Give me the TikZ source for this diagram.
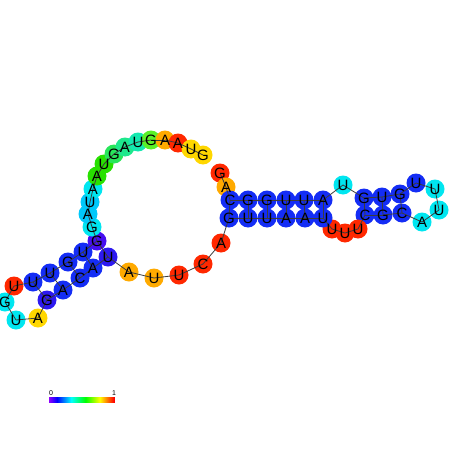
\documentclass[tikz,border=0pt]{standalone}
\usepackage{fontspec}
\setmainfont{Liberation Sans}
\definecolor{cred}{RGB}{255,40,0}
\definecolor{cora}{RGB}{255,170,0}
\definecolor{cyel}{RGB}{255,215,0}
\definecolor{cblu}{RGB}{20,45,245}
\definecolor{cpur}{RGB}{70,15,240}
\definecolor{cbp}{RGB}{45,25,240}
\definecolor{ccya}{RGB}{0,230,240}
\definecolor{clbl}{RGB}{0,200,250}
\definecolor{cgrn}{RGB}{40,225,0}
\definecolor{cgr2}{RGB}{40,230,90}
\definecolor{cgr3}{RGB}{30,232,140}
\definecolor{cgr4}{RGB}{20,232,175}
\definecolor{cgr5}{RGB}{90,240,40}
\definecolor{cline}{RGB}{60,60,60}
\tikzset{
  ntc/.style={circle, minimum size=19pt, inner sep=0pt, draw=none},
  ntl/.style={inner sep=0pt, font=\fontsize{15}{15}\selectfont},
  bb/.style={draw=cline, line width=0.8pt},
}
\begin{document}
\begin{tikzpicture}[x=1pt,y=-1pt]
\fill[white] (0,0) rectangle (452,452);
\useasboundingbox (0,0) rectangle (452,452);
\def\bases{
b1/220/173/cred/G, b2/226/187/cora/A, b3/230/200/cblu/C, b4/248/200/cblu/G,
b5/267/200/cblu/G, b6/286/200/cblu/U, b7/304/200/cblu/U, b8/323/200/cblu/A,
b9/343/185/ccya/U, b10/364/198/cblu/G, b11/382/197/cblu/U, b12/400/194/cblu/G,
b13/416/183/cblu/U, b14/435/189/ccya/U, b15/439/210/ccya/U, b16/422/222/ccya/A,
b17/402/213/cblu/C, b18/383/215/cblu/G, b19/365/215/cblu/C, b20/358/229/cred/U,
b21/345/233/cred/U, b22/332/229/cred/U, b23/323/218/cblu/U, b24/305/218/cblu/A,
b25/286/218/cblu/A, b26/267/218/cblu/U, b27/248/218/cblu/U, b28/229/218/cblu/G,
b29/221/243/cred/A, b30/203/264/cred/C, b31/179/275/cred/U, b32/154/278/cora/U,
b33/129/272/cora/A, b34/108/257/cbp/U, b35/93/268/cblu/A, b36/80/278/cblu/C,
b37/63/290/cblu/A, b38/47/300/cbp/G, b39/38/318/cyel/A, b40/16/320/ccya/U,
b41/5/302/ccya/G, b42/14/286/cred/U, b43/33/282/cblu/U, b44/50/273/cblu/U,
b45/68/262/cblu/G, b46/83/252/cblu/U, b47/97/241/cpur/G, b48/92/227/ccya/G,
b49/88/214/clbl/A, b50/90/202/clbl/U, b51/93/189/ccya/A, b52/97/176/cgrn/A,
b53/104/164/cgrn/U, b54/114/154/cgr2/G, b55/125/147/cgr3/A, b56/138/142/cgr4/U,
b57/151/140/cgr5/G, b58/165/140/cora/A, b59/178/143/cred/A, b60/191/149/cyel/U,
b61/203/155/cyel/G}
% circles
\foreach \n/\x/\y/\c/\l in \bases {
  \node[ntc, fill=\c] (\n) at (\x,\y) {};
}
% backbone
\foreach \i [evaluate=\i as \j using int(\i+1)] in {1,...,60} {
  \draw[bb] (b\i.center) -- (b\j.center);
}
% base pairs
\foreach \a/\b in {3/28,4/27,5/26,6/25,7/24,8/23,10/19,11/18,12/17,34/47,35/46,36/45,37/44,38/43} {
  \draw[bb] (b\a.center) -- (b\b.center);
}
% letters
\foreach \n/\x/\y/\c/\l in \bases {
  \node[ntl] at (\n.center) {\l};
}
% colour bar
\foreach \i in {0,...,65} {
  \pgfmathsetmacro\h{0.76*(1-\i/65)}
  \definecolor{barc}{hsb}{\h,1,1}
  \fill[barc] (49+\i,397) rectangle (50.3+\i,402.5);
}
\node[inner sep=0pt, font=\fontsize{7}{7}\selectfont] (lab0) at (51,393) {0};
\node[inner sep=0pt, font=\fontsize{7}{7}\selectfont] (lab1) at (114,393) {1};
\end{tikzpicture}
\end{document}
